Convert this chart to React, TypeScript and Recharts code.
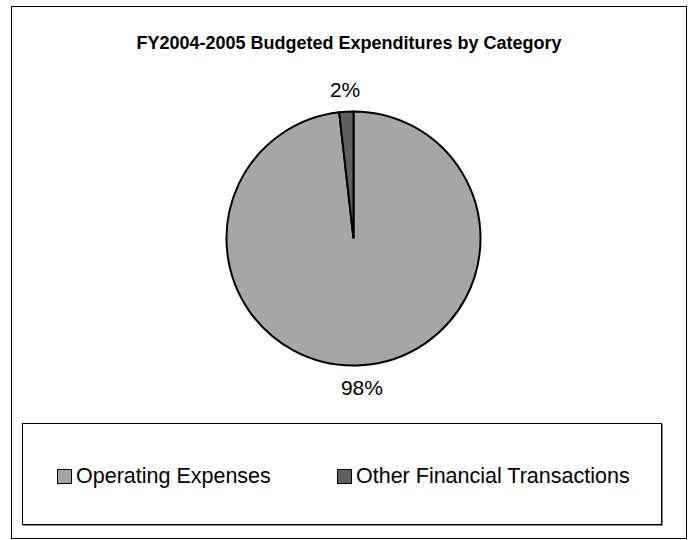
import React from 'react';
import { PieChart, Pie, Cell, Legend } from 'recharts';

const categories = ['Operating Expenses', 'Other Financial Transactions'];
const shares = [98.2, 1.8];
const colors = ['#a6a6a6', '#5f5f5f'];

const data = categories.map((name, i) => ({ name, value: shares[i] }));

const FONT = '"Liberation Sans", Arial, sans-serif';
const RAD = Math.PI / 180;

// outside labels, centred on the slice's mid angle like the original
const renderLabel = (props: any) => {
  const { cx, cy, outerRadius, midAngle, percent } = props;
  const r = outerRadius + 22;
  const x = cx + r * Math.cos(-midAngle * RAD);
  const y = cy + r * Math.sin(-midAngle * RAD);
  return (
    <text
      x={x}
      y={y}
      fill="#000"
      fontSize={21}
      fontFamily={FONT}
      textAnchor="middle"
      dominantBaseline="central"
    >
      {Math.round(percent * 100)}%
    </text>
  );
};

const LegendBox = () => {
  const lefts = [34, 314];
  return (
    <div
      style={{
        position: 'relative',
        width: 638,
        height: 100,
        border: '1px solid #000',
        boxShadow: '1px 1px 0 #888',
        background: '#fff',
        fontFamily: FONT,
        fontSize: 21.5,
        color: '#000',
      }}
    >
      {categories.map((name, i) => (
        <div
          key={name}
          style={{ position: 'absolute', left: lefts[i], top: 40, height: 24, display: 'flex', alignItems: 'center' }}
        >
          <span
            style={{
              display: 'inline-block',
              width: 13,
              height: 13,
              background: colors[i],
              border: '1.5px solid #000',
              marginRight: 4,
            }}
          />
          <span style={{ lineHeight: '24px', whiteSpace: 'nowrap' }}>{name}</span>
        </div>
      ))}
    </div>
  );
};

export default function App() {
  return (
    <div style={{ position: 'absolute', left: 0, top: 0, width: 692, height: 540, background: '#fff' }}>
      <div
        style={{
          position: 'absolute',
          left: 11,
          top: 6,
          width: 674,
          height: 531,
          border: '1px solid #000',
        }}
      />
      <div
        style={{
          position: 'absolute',
          left: 0,
          top: 32,
          width: 698,
          textAlign: 'center',
          fontFamily: FONT,
          fontWeight: 700,
          fontSize: 18,
          lineHeight: '22px',
          color: '#000',
        }}
      >
        FY2004-2005 Budgeted Expenditures by Category
      </div>
      <div style={{ position: 'absolute', left: 0, top: 0 }}>
        <PieChart width={692} height={540}>
          <Pie
            data={data}
            dataKey="value"
            nameKey="name"
            cx={348.5}
            cy={233.5}
            outerRadius={127}
            startAngle={90}
            endAngle={-270}
            stroke="#000"
            strokeWidth={2}
            label={renderLabel}
            labelLine={false}
            isAnimationActive={false}
          >
            {data.map((d, i) => (
              <Cell key={d.name} fill={colors[i]} />
            ))}
          </Pie>
          <Legend
            content={() => <LegendBox />}
            wrapperStyle={{ left: 22, top: 423, width: 640, height: 102 }}
          />
        </PieChart>
      </div>
    </div>
  );
}
